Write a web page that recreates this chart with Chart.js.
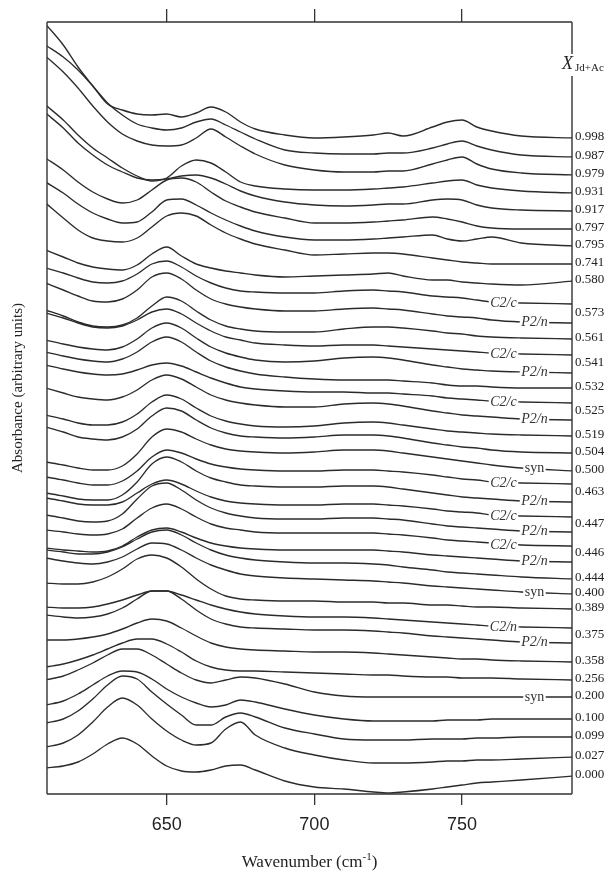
<!DOCTYPE html>
<html>
<head>
<meta charset="utf-8">
<script src="https://cdn.jsdelivr.net/npm/chart.js@4.4.1/dist/chart.umd.min.js"></script>
<style>
  html, body { margin: 0; padding: 0; background: #ffffff; }
  canvas { display: block; }
</style>
</head>
<body>
<canvas id="c" width="616" height="873"></canvas>
<script>
// ---------------- DATA ----------------
const wavenumbers = [609, 615, 620, 625, 630, 635, 640, 645, 650, 655, 660, 665, 670, 675, 680, 690, 700, 710, 720, 725, 730, 740, 745, 750, 755, 760, 770, 788];
const xTicks = [650, 700, 750];

// composition (X Jd+Ac) and phase of each spectrum, top to bottom
const curveComposition = ['0.998','0.987','0.979','0.931','0.917','0.797','0.795','0.741','0.580',
  '0.573','0.573','0.561','0.541','0.541','0.532','0.525','0.525','0.519','0.504','0.500',
  '0.463','0.463','0.447','0.447','0.446','0.446','0.444','0.400','0.389','0.375','0.375',
  '0.358','0.256','0.200','0.100','0.099','0.027','0.000'];
const curvePhase = ['','','','','','','','','',
  'C2/c','P2/n','','C2/c','P2/n','','C2/c','P2/n','','','syn',
  'C2/c','P2/n','C2/c','P2/n','C2/c','P2/n','','syn','','C2/n','P2/n',
  '','','syn','','','',''];

// vertical stacking offset of each spectrum (arbitrary units)
const baselines = [656, 637, 619, 601, 583, 565, 548, 530, 513, 490, 471, 455, 439, 421, 406, 391, 374, 358, 341, 323,
  310, 292, 277, 262, 248, 232, 215, 200, 185, 166, 151, 132, 114, 97, 75, 57, 37, 18];

// absorbance of each spectrum relative to its offset (arbitrary units)
const a0998  = [114, 93, 71, 52, 34, 28, 24, 23, 24, 21, 25, 31, 26, 16, 9, 3, 0, 1, 3, 5, 2, 11, 16, 18, 11, 7, 2, 0];
const a0987  = [112, 100, 87, 71, 54, 42, 33, 29, 27, 29, 35, 38, 32, 25, 18, 7, 4, 3, 3, 4, 4, 9, 13, 16, 11, 7, 2, 0];
const a0979  = [119, 103, 87, 69, 53, 41, 34, 30, 29, 30, 37, 46, 38, 29, 21, 10, 5, 3, 3, 4, 4, 11, 15, 18, 11, 6, 2, 0];
const a0931  = [88, 73, 58, 45, 35, 25, 17, 12, 15, 27, 33, 30, 21, 11, 7, 4, 3, 3, 4, 5, 6, 10, 12, 13, 8, 5, 2, 0];
const a0917  = [98, 83, 68, 56, 46, 39, 33, 31, 32, 35, 36, 33, 27, 20, 15, 9, 6, 5, 6, 7, 7, 11, 12, 11, 6, 3, 1, 0];
const a0797  = [71, 59, 47, 37, 30, 26, 29, 39, 49, 51, 47, 37, 28, 22, 17, 11, 6, 6, 7, 8, 9, 12, 10, 7, 3, 1, 0, 0];
const a0795  = [64, 53, 42, 33, 27, 23, 24, 34, 46, 47, 41, 33, 26, 20, 15, 9, 6, 6, 7, 8, 9, 11, 7, 5, 7, 9, 3, 0];
const a0741  = [61, 46, 34, 26, 23, 22, 26, 37, 48, 51, 48, 39, 31, 25, 20, 14, 9, 10, 11, 11, 10, 6, 4, 2, 1, 0, 0, 0];
const a0580  = [31, 24, 18, 14, 12, 11, 16, 27, 34, 25, 17, 13, 10, 8, 6, 4, 5, 6, 7, 8, 5, 1, 1, -1, -2, -3, -4, 0];
const a0573c = [36, 31, 26, 22, 21, 23, 30, 40, 43, 37, 28, 21, 16, 13, 12, 11, 11, 13, 14, 13, 12, 8, 7, 6, 4, 2, 1, 0];
const a0573p = [40, 33, 27, 22, 21, 24, 33, 46, 50, 44, 33, 24, 19, 16, 14, 12, 12, 14, 15, 14, 13, 9, 7, 6, 5, 3, 1, 0];
const a0561  = [29, 23, 17, 13, 12, 14, 21, 33, 42, 38, 28, 19, 13, 10, 8, 7, 7, 10, 12, 12, 11, 8, 6, 5, 3, 2, 1, 0];
const a0541c = [42, 37, 32, 28, 27, 29, 35, 43, 46, 41, 32, 24, 18, 15, 12, 10, 9, 10, 10, 9, 8, 6, 5, 4, 3, 2, 1, 0];
const a0541p = [33, 29, 26, 24, 23, 26, 34, 45, 50, 45, 35, 26, 20, 16, 13, 11, 12, 15, 16, 15, 13, 8, 6, 4, 3, 2, 1, 0];
const a0532  = [36, 32, 29, 27, 26, 29, 36, 46, 51, 46, 36, 27, 21, 17, 14, 11, 9, 8, 8, 8, 7, 5, 3, 2, 2, 1, 0, 0];
const a0525c = [38, 34, 31, 29, 28, 29, 33, 38, 40, 37, 31, 25, 20, 16, 14, 12, 11, 11, 10, 10, 9, 7, 5, 4, 3, 2, 1, 0];
const a0525p = [32, 27, 23, 21, 20, 23, 30, 40, 45, 41, 33, 25, 20, 17, 15, 13, 13, 16, 17, 16, 14, 9, 7, 5, 4, 3, 1, 0];
const a0519  = [21, 17, 13, 11, 11, 14, 22, 34, 41, 37, 28, 20, 15, 12, 10, 9, 10, 13, 14, 13, 11, 7, 5, 4, 3, 2, 1, 0];
const a0504  = [26, 21, 16, 14, 13, 16, 24, 37, 45, 42, 33, 25, 20, 17, 16, 15, 16, 18, 18, 17, 15, 10, 8, 6, 5, 3, 1, 0];
const a0500s = [9, 6, 3, 1, 1, 5, 17, 34, 42, 39, 32, 26, 22, 20, 19, 18, 19, 21, 21, 20, 18, 14, 12, 10, 8, 6, 3, 0];
const a0463c = [7, 4, 1, -1, -1, 3, 13, 27, 34, 31, 25, 20, 17, 15, 14, 13, 13, 14, 14, 13, 12, 9, 7, 5, 4, 2, 1, 0];
const a0463p = [9, 6, 3, 2, 2, 7, 20, 38, 45, 40, 31, 24, 20, 17, 16, 15, 15, 16, 16, 15, 13, 9, 7, 5, 4, 3, 1, 0];
const a0447c = [19, 16, 13, 12, 12, 15, 24, 33, 37, 33, 26, 20, 16, 14, 13, 12, 12, 13, 13, 12, 11, 8, 6, 5, 4, 2, 1, 0];
const a0447p = [17, 14, 11, 10, 11, 18, 33, 46, 49, 42, 32, 24, 19, 16, 14, 13, 13, 14, 14, 13, 12, 8, 6, 5, 4, 3, 1, 0];
const a0446c = [16, 14, 12, 11, 12, 17, 28, 38, 42, 37, 29, 22, 18, 16, 14, 13, 13, 13, 13, 12, 11, 8, 6, 5, 4, 3, 1, 0];
const a0446p = [14, 12, 11, 10, 11, 16, 25, 32, 34, 30, 24, 19, 16, 14, 13, 12, 12, 12, 12, 11, 10, 7, 6, 5, 4, 3, 1, 0];
const a0444  = [29, 27, 25, 25, 27, 32, 40, 47, 49, 44, 36, 29, 24, 21, 19, 17, 16, 16, 15, 14, 12, 9, 7, 6, 5, 4, 2, 0];
const a0400s = [36, 33, 31, 30, 32, 37, 45, 51, 50, 44, 36, 29, 24, 20, 18, 16, 15, 14, 13, 12, 11, 8, 7, 6, 5, 4, 2, 0];
const a0389  = [26, 25, 25, 27, 32, 40, 50, 54, 51, 42, 30, 20, 13, 10, 9, 8, 8, 7, 7, 6, 6, 4, 4, 3, 2, 2, 1, 0];
const a0375c = [21, 20, 20, 21, 24, 28, 33, 37, 37, 33, 28, 23, 19, 16, 14, 12, 11, 11, 10, 9, 8, 6, 5, 4, 3, 2, 1, 0];
const a0375p = [28, 26, 25, 26, 29, 35, 44, 52, 52, 44, 33, 24, 19, 16, 15, 14, 13, 13, 12, 11, 10, 7, 6, 5, 4, 3, 1, 0];
const a0358  = [22, 22, 23, 25, 28, 33, 39, 43, 41, 34, 26, 19, 15, 13, 12, 11, 10, 10, 9, 8, 7, 5, 4, 3, 3, 2, 1, 0];
const a0256  = [13, 16, 20, 25, 31, 37, 41, 41, 36, 28, 19, 13, 10, 9, 9, 8, 7, 6, 5, 5, 4, 3, 3, 2, 2, 2, 1, 0];
const a0200s = [17, 21, 27, 34, 42, 48, 48, 42, 33, 24, 17, 14, 17, 20, 19, 13, 5, 1, 0, 0, 0, 0, 0, 0, 0, 0, 0, 0];
const a0100  = [14, 18, 25, 34, 43, 48, 47, 40, 30, 22, 16, 12, 14, 19, 17, 10, 4, 0, -2, -2, -2, -2, -1, -1, -1, 0, 0, 0];
const a0099  = [14, 18, 26, 38, 52, 61, 58, 45, 33, 22, 12, 12, 20, 24, 20, 9, 3, -2, -3, -3, -3, -2, -2, -2, -1, -1, 0, 0];
const a0027  = [10, 14, 22, 35, 50, 59, 52, 38, 26, 17, 12, 14, 28, 35, 22, 9, 2, -3, -6, -6, -6, -5, -4, -4, -3, -3, -2, 0];
const a0000  = [8, 10, 14, 22, 32, 38, 32, 20, 10, 5, 4, 6, 10, 11, 6, -5, -11, -13, -16, -17, -16, -13, -11, -9, -7, -6, -4, 0];

const spectra = [a0998, a0987, a0979, a0931, a0917, a0797, a0795, a0741, a0580,
  a0573c, a0573p, a0561, a0541c, a0541p, a0532, a0525c, a0525p, a0519, a0504, a0500s,
  a0463c, a0463p, a0447c, a0447p, a0446c, a0446p, a0444, a0400s, a0389, a0375c, a0375p,
  a0358, a0256, a0200s, a0100, a0099, a0027, a0000];

// ---------------- CHART ----------------
const INK = '#2b2b2b';
const SERIF = '"Liberation Serif", "DejaVu Serif", serif';

const datasets = spectra.map((s, i) => ({
  data: wavenumbers.map((w, j) => ({ x: w, y: baselines[i] + s[j] })),
  borderColor: INK,
  borderWidth: 1.35,
  pointRadius: 0,
  fill: false,
  cubicInterpolationMode: 'monotone'
}));

function endValue(i) { const s = spectra[i]; return baselines[i] + s[s.length - 1]; }
function tailValue(i) { const s = spectra[i]; return baselines[i] + s[s.length - 2]; }

const annotPlugin = {
  id: 'annot',
  afterDraw(chart) {
    const { ctx, chartArea: a, scales } = chart;
    const x = scales.x, y = scales.y;
    ctx.save();
    // frame
    ctx.strokeStyle = '#333';
    ctx.lineWidth = 1.4;
    ctx.beginPath();
    ctx.moveTo(a.left, a.top); ctx.lineTo(a.left, a.bottom);
    ctx.moveTo(a.left, a.bottom); ctx.lineTo(a.right, a.bottom);
    ctx.moveTo(a.left, a.top); ctx.lineTo(a.right, a.top);
    ctx.moveTo(a.right, a.top); ctx.lineTo(a.right, 54);
    ctx.moveTo(a.right, 76); ctx.lineTo(a.right, a.bottom);
    ctx.stroke();

    // phase tags on the curves
    ctx.textBaseline = 'middle';
    ctx.textAlign = 'center';
    curvePhase.forEach((tag, i) => {
      if (!tag) return;
      const wn = (tag === 'C2/c' || tag === 'C2/n') ? 764 : 774.5;
      const px = x.getPixelForValue(wn);
      const py = y.getPixelForValue(tailValue(i));
      ctx.font = (tag === 'syn' ? '' : 'italic ') + '14px ' + SERIF;
      const w = ctx.measureText(tag).width;
      ctx.fillStyle = '#fff';
      ctx.fillRect(px - w / 2 - 1.5, py - 5, w + 3, 10);
      ctx.fillStyle = '#333';
      ctx.fillText(tag, px, py);
    });

    // composition labels on the right
    ctx.textAlign = 'left';
    ctx.font = '13px ' + SERIF;
    ctx.fillStyle = '#222';
    const done = {};
    curveComposition.forEach((c) => {
      if (done[c]) return;
      done[c] = true;
      const idx = curveComposition.map((v, k) => v === c ? k : -1).filter(k => k >= 0);
      const v = idx.reduce((s, k) => s + endValue(k), 0) / idx.length;
      ctx.fillText(c, a.right + 3, y.getPixelForValue(v) - 1);
    });

    // X Jd+Ac header
    ctx.textBaseline = 'alphabetic';
    ctx.font = 'italic 18px ' + SERIF;
    ctx.fillStyle = '#222';
    ctx.fillText('X', a.right - 10, 69);
    ctx.font = '11px ' + SERIF;
    ctx.fillText('Jd+Ac', a.right + 3, 71);

    // x axis title with superscript
    const cx = (a.left + a.right) / 2;
    const p1 = 'Wavenumber (cm', p3 = ')';
    ctx.font = '11px ' + SERIF;
    const wSup = ctx.measureText('-1').width;
    ctx.font = '17px ' + SERIF;
    const w1 = ctx.measureText(p1).width, w3 = ctx.measureText(p3).width;
    let sx = cx - (w1 + wSup + w3) / 2;
    const by = 867;
    ctx.fillText(p1, sx, by); sx += w1;
    ctx.font = '11px ' + SERIF;
    ctx.fillText('-1', sx, by - 7); sx += wSup;
    ctx.font = '17px ' + SERIF;
    ctx.fillText(p3, sx, by);

    // y axis title
    ctx.translate(18, 388);
    ctx.rotate(-Math.PI / 2);
    ctx.textAlign = 'center';
    ctx.textBaseline = 'middle';
    ctx.font = '15px ' + SERIF;
    ctx.fillText('Absorbance (arbitrary units)', 0, 0);
    ctx.restore();
  }
};

const xMin = 609.5, xMax = 787.2;
const tickFilter = s => { s.ticks = xTicks.map(v => ({ value: v })); };

new Chart(document.getElementById('c').getContext('2d'), {
  type: 'line',
  data: { datasets },
  options: {
    responsive: false,
    animation: false,
    events: [],
    layout: { padding: { left: 47, right: 44, top: 22, bottom: 29 } },
    plugins: { legend: { display: false }, tooltip: { enabled: false }, title: { display: false } },
    scales: {
      x: {
        type: 'linear', position: 'bottom', min: xMin, max: xMax,
        afterBuildTicks: tickFilter,
        afterFit: s => { s.height = 50; },
        border: { display: false },
        grid: { display: true, drawOnChartArea: false, drawTicks: true, tickLength: 11, color: '#333', lineWidth: 1.3 },
        ticks: { display: true, autoSkip: false, maxRotation: 0, minRotation: 0, padding: 9, color: '#222',
                 font: { family: 'Liberation Sans', size: 18 } }
      },
      xTop: {
        type: 'linear', position: 'top', min: xMin, max: xMax,
        afterBuildTicks: tickFilter,
        afterFit: s => { s.height = 0; },
        border: { display: false },
        grid: { display: true, drawOnChartArea: false, drawTicks: true, tickLength: 13, color: '#333', lineWidth: 1.3 },
        ticks: { display: false }
      },
      y: { display: false, min: 0, max: 772 }
    }
  },
  plugins: [annotPlugin]
});
</script>
</body>
</html>
